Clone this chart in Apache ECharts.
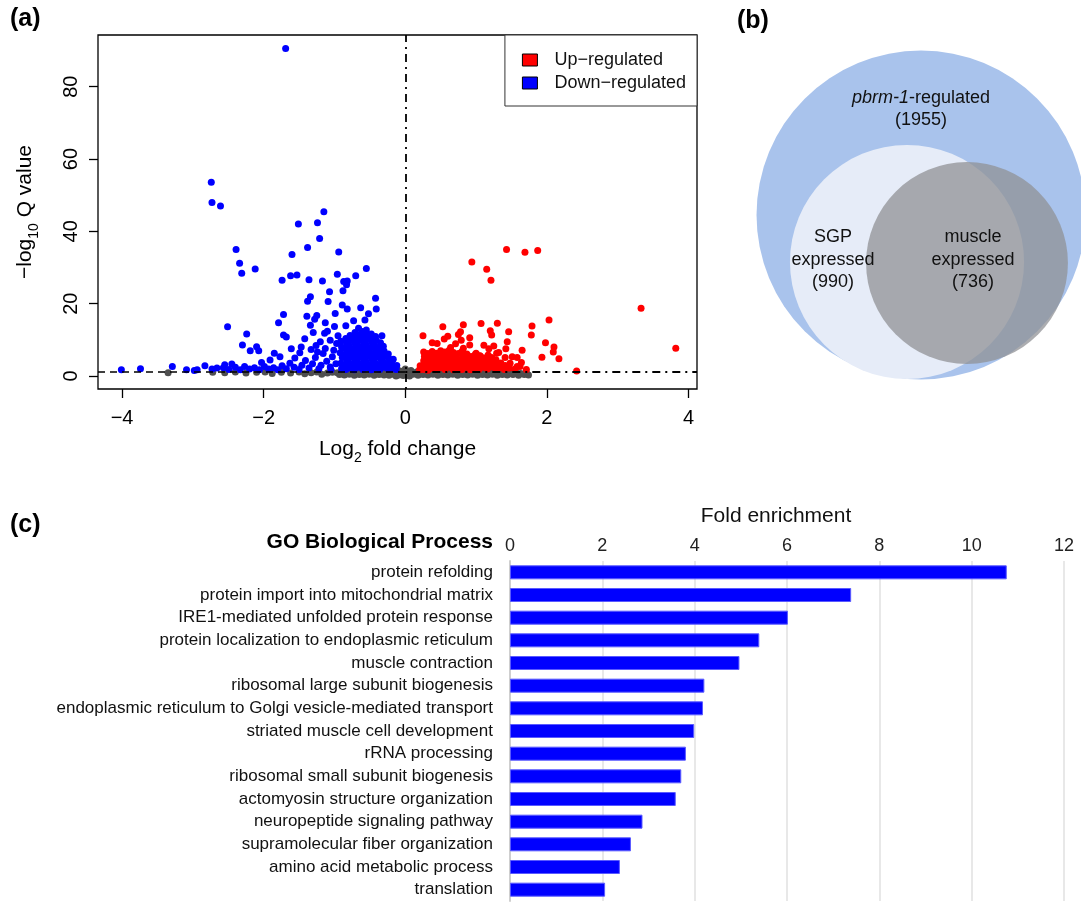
<!DOCTYPE html>
<html>
<head>
<meta charset="utf-8">
<title>pbrm-1 volcano / venn / GO</title>
<script src="https://cdn.jsdelivr.net/npm/echarts@6/dist/echarts.min.js"></script>
<style>
  html, body { margin: 0; padding: 0; background: #fff; }
  #chart { width: 1081px; height: 903px; }
</style>
</head>
<body>
<div id="chart"></div>
<script>
// ---- (a) volcano plot: [log2 fold change, -log10 Q] ----
const xTicks = [-4, -2, 0, 2, 4];
const yTicks = [0, 20, 40, 60, 80];
const qCutoff = 1.3;

const downRegulated = [
  [-1.69, 90.6], [-2.74, 53.6], [-2.73, 48.0], [-2.61, 47.0], [-1.15, 45.4], [-1.24, 42.4], [-1.51, 42.0],
  [-1.21, 38.0], [-1.38, 35.5], [-2.39, 35.0], [-0.94, 34.3], [-1.60, 33.6], [-2.34, 31.2], [-2.12, 29.6],
  [-0.55, 29.7], [-2.31, 28.4], [-0.96, 28.1], [-1.53, 27.9], [-1.62, 27.7], [-0.70, 27.7], [-1.36, 26.6],
  [-1.74, 26.5], [-1.17, 26.3], [-0.82, 26.3], [-0.87, 26.1], [-0.83, 25.2], [-0.88, 23.6], [-1.07, 23.3],
  [-1.34, 21.9], [-0.42, 21.5], [-1.38, 20.7], [-1.09, 20.6], [-0.89, 19.6], [-0.63, 18.9], [-0.82, 18.5],
  [-0.41, 18.5], [-0.99, 17.3], [-0.52, 17.2], [-1.72, 17.0], [-1.25, 16.7], [-1.39, 16.5], [-1.28, 15.7],
  [-0.57, 15.5], [-0.73, 15.3], [-1.79, 14.7], [-1.13, 14.7], [-1.34, 14.0], [-0.84, 13.9], [-1.00, 13.7],
  [-2.51, 13.6], [-0.66, 13.2], [-0.55, 12.7], [-1.14, 11.8], [-2.24, 11.6], [-0.48, 11.6], [-1.72, 11.3],
  [-0.95, 11.1], [-0.33, 11.1], [-1.68, 10.8], [-2.30, 8.6], [-1.26, 8.4], [-2.10, 8.1], [-1.47, 8.0],
  [-1.61, 7.5], [-2.07, 7.0], [-2.19, 7.0], [-1.85, 6.3], [-1.77, 5.3], [-1.91, 4.4], [-2.03, 3.7],
  [-2.45, 3.3], [-2.55, 3.1], [-2.83, 2.8], [-3.29, 2.6], [-2.57, 2.3], [-3.74, 2.0], [-2.73, 1.9],
  [-4.01, 1.7], [-3.09, 1.7], [-2.94, 1.7], [-2.98, 1.5],
  [-2.66, 2.2], [-2.49, 1.8], [-2.40, 2.4], [-2.33, 1.7], [-2.27, 2.6], [-2.20, 1.9], [-2.13, 2.3],
  [-2.06, 1.7], [-1.99, 2.6], [-1.93, 1.9], [-1.86, 2.3], [-1.80, 1.7], [-1.74, 2.8], [-1.68, 2.0],
  [-1.63, 3.5], [-1.57, 2.4], [-1.50, 1.8], [-1.46, 3.0], [-1.41, 4.3], [-1.36, 2.2], [-1.31, 3.4],
  [-1.27, 5.1], [-1.22, 2.0], [-1.19, 3.0], [-1.16, 6.2], [-1.11, 4.1], [-1.06, 2.5], [-1.03, 5.3],
  [-1.01, 7.1], [-0.98, 3.4], [-1.56, 5.0], [-1.49, 6.4], [-1.33, 7.3], [-1.20, 9.5], [-1.06, 9.9],
  [-1.42, 10.3], [-1.10, 12.4], [-1.30, 12.0], [-0.97, 9.0], [-1.13, 7.6], [-1.24, 6.6], [-1.05, 1.7],
  [-0.90, 2.0], [-0.91, 3.5], [-0.89, 5.1], [-0.92, 6.4], [-0.90, 8.0], [-0.91, 9.6],
  [-0.84, 1.8], [-0.85, 3.1], [-0.83, 4.5], [-0.84, 6.0], [-0.85, 7.5], [-0.83, 9.1], [-0.84, 10.4],
  [-0.78, 2.2], [-0.79, 3.6], [-0.77, 5.2], [-0.78, 6.8], [-0.79, 8.3], [-0.77, 9.8], [-0.78, 11.2],
  [-0.72, 1.7], [-0.73, 3.0], [-0.71, 4.4], [-0.72, 6.0], [-0.73, 7.4], [-0.71, 9.0], [-0.72, 10.5], [-0.71, 12.0],
  [-0.66, 2.4], [-0.67, 3.8], [-0.65, 5.3], [-0.66, 6.9], [-0.67, 8.4], [-0.65, 9.9], [-0.66, 11.4],
  [-0.60, 1.8], [-0.61, 3.2], [-0.59, 4.7], [-0.60, 6.2], [-0.61, 7.7], [-0.59, 9.3], [-0.60, 10.8], [-0.61, 12.3],
  [-0.54, 2.3], [-0.55, 3.9], [-0.53, 5.4], [-0.54, 7.0], [-0.55, 8.6], [-0.53, 10.1], [-0.54, 11.5],
  [-0.48, 1.7], [-0.49, 3.1], [-0.47, 4.6], [-0.48, 6.2], [-0.49, 7.8], [-0.47, 9.3], [-0.48, 10.6],
  [-0.42, 2.2], [-0.43, 3.7], [-0.41, 5.3], [-0.42, 6.8], [-0.43, 8.3], [-0.41, 9.8], [-0.42, 10.9],
  [-0.36, 1.8], [-0.37, 3.2], [-0.35, 4.8], [-0.36, 6.3], [-0.37, 7.8], [-0.35, 9.2],
  [-0.30, 2.4], [-0.31, 3.9], [-0.29, 5.4], [-0.30, 6.9], [-0.31, 8.2],
  [-0.24, 1.9], [-0.25, 3.3], [-0.23, 4.8], [-0.24, 6.1],
  [-0.18, 2.1], [-0.19, 3.5], [-0.17, 4.6], [-0.13, 1.8], [-0.12, 2.9]
];

const upRegulated = [
  [1.43, 35.0], [1.87, 34.7], [1.69, 34.2], [0.94, 31.5], [1.15, 29.5], [1.21, 26.5], [3.33, 18.7],
  [2.03, 15.5], [1.30, 14.6], [1.07, 14.5], [0.82, 14.2], [1.79, 13.8], [0.53, 13.6], [1.20, 12.5],
  [1.46, 12.2], [0.78, 12.2], [0.75, 11.5], [1.22, 11.3], [1.78, 11.3], [0.25, 11.1], [0.60, 11.0],
  [0.91, 10.6], [0.55, 10.2], [0.79, 9.9], [1.44, 9.5], [1.98, 9.2], [0.38, 9.2], [0.45, 9.0],
  [0.71, 8.9], [0.91, 8.6], [1.11, 8.5], [1.25, 8.3], [2.10, 8.0], [0.64, 7.9], [0.82, 7.7], [3.82, 7.7],
  [1.18, 7.5], [1.42, 7.5], [1.65, 7.1], [2.09, 6.6], [1.32, 6.5], [1.00, 6.3], [1.06, 5.5], [1.51, 5.3],
  [1.93, 5.2], [1.58, 5.1], [1.41, 5.1], [1.15, 5.1], [2.17, 4.8], [1.64, 3.7], [1.58, 2.6], [1.71, 1.8],
  [2.42, 1.4],
  [0.20, 1.7], [0.21, 2.8], [0.26, 1.8], [0.27, 3.0], [0.26, 4.2], [0.27, 5.4], [0.26, 6.6],
  [0.32, 1.6], [0.33, 2.7], [0.32, 3.9], [0.33, 5.0], [0.32, 6.2],
  [0.38, 2.1], [0.39, 3.3], [0.38, 4.5], [0.39, 5.6], [0.38, 6.8],
  [0.44, 1.7], [0.45, 2.9], [0.44, 4.0], [0.45, 5.2], [0.44, 6.3],
  [0.50, 2.3], [0.51, 3.5], [0.50, 4.7], [0.51, 5.8], [0.50, 7.0],
  [0.56, 1.8], [0.57, 3.0], [0.56, 4.2], [0.57, 5.4], [0.56, 6.6],
  [0.62, 2.4], [0.63, 3.6], [0.62, 4.8], [0.63, 6.0], [0.62, 7.1],
  [0.68, 1.7], [0.69, 2.9], [0.68, 4.1], [0.69, 5.3], [0.68, 6.5],
  [0.74, 2.2], [0.75, 3.4], [0.74, 4.6], [0.75, 6.2],
  [0.80, 1.8], [0.81, 3.0], [0.80, 4.3], [0.81, 5.5], [0.80, 6.8],
  [0.86, 2.4], [0.87, 3.6], [0.86, 4.9], [0.87, 6.1],
  [0.92, 1.7], [0.93, 2.9], [0.92, 4.1], [0.93, 5.4],
  [0.98, 2.2], [0.99, 3.4], [0.98, 4.7], [0.99, 6.0],
  [1.04, 1.8], [1.05, 3.0], [1.04, 4.3], [1.05, 5.6],
  [1.10, 2.4], [1.11, 3.7], [1.10, 5.0],
  [1.16, 1.9], [1.17, 3.1], [1.16, 4.4], [1.17, 5.8],
  [1.22, 2.5], [1.23, 3.8], [1.22, 5.1],
  [1.28, 1.8], [1.29, 3.0], [1.28, 4.5], [1.29, 6.3],
  [1.34, 2.3], [1.35, 3.6], [1.40, 1.8], [1.41, 2.9], [1.47, 2.2], [1.48, 3.5], [1.55, 1.9], [1.62, 2.6]
];

const notSignificant = [
  [-3.35, 0.9], [-2.72, 1.0], [-2.55, 0.9], [-2.40, 1.1], [-2.25, 0.8], [-2.10, 1.0], [-1.98, 1.1],
  [-1.88, 0.7], [-1.75, 1.0], [-1.62, 0.8], [-1.50, 1.1], [-1.42, 0.6], [-1.33, 0.9], [-1.25, 1.1],
  [-1.18, 0.5], [-1.10, 0.8], [-1.03, 1.0],
  [-0.96, 0.9], [-0.89, 1.1], [-0.82, 0.8], [-0.75, 1.0], [-0.68, 1.1], [-0.61, 0.9], [-0.54, 1.0],
  [-0.47, 0.8], [-0.40, 1.1], [-0.33, 0.9], [-0.26, 1.0], [-0.19, 0.8], [-0.12, 1.1], [-0.05, 0.9],
  [0.02, 1.0], [0.09, 0.8], [0.16, 1.1], [0.23, 0.9], [0.30, 1.0], [0.37, 0.8], [0.44, 1.1], [0.51, 0.9],
  [0.58, 1.0], [0.65, 0.8], [0.72, 1.1], [0.79, 0.9], [0.86, 1.0], [0.93, 0.8], [1.00, 1.1], [1.07, 0.9],
  [1.14, 1.0], [1.21, 0.8], [1.28, 1.1], [1.35, 0.9], [1.42, 1.0], [1.49, 0.8], [1.56, 1.0], [1.63, 0.7],
  [1.71, 0.9],
  [-0.93, 0.4], [-0.86, 0.3], [-0.79, 0.5], [-0.72, 0.2], [-0.65, 0.4], [-0.58, 0.3], [-0.51, 0.5],
  [-0.44, 0.2], [-0.37, 0.4], [-0.30, 0.3], [-0.23, 0.2], [-0.16, 0.4], [-0.09, 0.3], [-0.03, 0.1],
  [0.04, 0.3], [0.11, 0.5], [0.18, 0.2], [0.25, 0.4], [0.32, 0.3], [0.39, 0.5], [0.46, 0.2], [0.53, 0.4],
  [0.60, 0.3], [0.67, 0.5], [0.74, 0.2], [0.81, 0.4], [0.88, 0.3], [0.95, 0.5], [1.02, 0.2], [1.09, 0.4],
  [1.16, 0.3], [1.23, 0.5], [1.30, 0.2], [1.37, 0.4], [1.44, 0.3], [1.52, 0.4], [1.60, 0.2], [1.68, 0.4],
  [1.74, 0.3], [-0.10, 1.6], [0.00, 1.9], [0.08, 1.5], [-0.05, 1.3], [0.06, 0.0], [-0.13, 0.0]
];

// ---- (b) Venn: gene counts ----
const vennSets = ['pbrm-1-regulated', 'SGP expressed', 'muscle expressed'];
const vennCounts = [1955, 990, 736];

// ---- (c) GO enrichment ----
const goTerms = [
  'protein refolding',
  'protein import into mitochondrial matrix',
  'IRE1-mediated unfolded protein response',
  'protein localization to endoplasmic reticulum',
  'muscle contraction',
  'ribosomal large subunit biogenesis',
  'endoplasmic reticulum to Golgi vesicle-mediated transport',
  'striated muscle cell development',
  'rRNA processing',
  'ribosomal small subunit biogenesis',
  'actomyosin structure organization',
  'neuropeptide signaling pathway',
  'supramolecular fiber organization',
  'amino acid metabolic process',
  'translation'
];
const foldEnrichment = [10.76, 7.39, 6.02, 5.40, 4.97, 4.21, 4.18, 3.99, 3.81, 3.71, 3.59, 2.87, 2.62, 2.38, 2.06];

// ---- layout / style ----
const font = 'Liberation Sans, Arial, Helvetica, sans-serif';
const xRange = [-4.34, 4.12];
const yRange = [-3.6, 94.3];
const minus = v => (v < 0 ? '\u2212' + Math.abs(v) : String(v));
const subRich = {
  a: { fontSize: 21, fontFamily: font, color: '#000', padding: [0, 0, 5, 0], verticalAlign: 'bottom' },
  b: { fontSize: 14, fontFamily: font, color: '#000', verticalAlign: 'bottom' }
};

// venn: circle area proportional to count, centres relative to the big circle
const vennScale = 3.72;
const vennCentres = [[0, 0], [-14, -47], [46, -48]];
const vennFill = ['#a9c3ec', '#e6ecf8', 'rgba(144,146,150,0.75)'];
const vennLabelOffset = [[0, -106], [-74, -2], [6, -3]];

const chart = echarts.init(document.getElementById('chart'));

chart.setOption({
  animation: false,
  textStyle: { fontFamily: font },
  title: {
    text: 'GO Biological Process',
    right: 588,
    top: 532,
    padding: 0,
    textStyle: { fontSize: 21, fontWeight: 'bold', color: '#000', fontFamily: font }
  },
  legend: {
    data: ['Up\u2212regulated', 'Down\u2212regulated'],
    right: 384,
    top: 35,
    orient: 'vertical',
    icon: 'rect',
    itemWidth: 15,
    itemHeight: 12,
    itemGap: 5,
    padding: [16, 11, 14, 17],
    borderColor: '#333',
    borderWidth: 1,
    backgroundColor: '#fff',
    selectedMode: false,
    itemStyle: { borderColor: '#000', borderWidth: 1, opacity: 1 },
    textStyle: { fontSize: 18, color: '#111', padding: [0, 0, 0, 12], fontFamily: font }
  },
  graphic: [
    { type: 'text', left: 10, top: 7, style: { text: '(a)', font: 'bold 25px ' + font, fill: '#000' } },
    { type: 'text', left: 737, top: 9, style: { text: '(b)', font: 'bold 25px ' + font, fill: '#000' } },
    { type: 'text', left: 10, top: 513, style: { text: '(c)', font: 'bold 25px ' + font, fill: '#000' } }
  ],
  grid: [
    { left: 98, top: 35, width: 599, height: 354, show: true, borderColor: '#000', borderWidth: 1.3, backgroundColor: 'transparent' },
    { left: 510, top: 561, width: 554, height: 340 },
    { left: 720, top: 0, width: 361, height: 400 }
  ],
  xAxis: [
    {
      gridIndex: 0, type: 'value', min: xRange[0], max: xRange[1],
      axisLine: { show: false, onZero: false },
      axisTick: { show: true, length: 9, customValues: xTicks, lineStyle: { color: '#000', width: 1.3 } },
      axisLabel: { customValues: xTicks, formatter: minus, fontSize: 20, color: '#000', margin: 19 },
      splitLine: { show: false },
      name: '{a|Log}{b|2}{a| fold change}',
      nameLocation: 'middle', nameGap: 50,
      nameTextStyle: { rich: subRich }
    },
    {
      gridIndex: 1, type: 'value', position: 'top', min: 0, max: 12, interval: 2,
      axisLine: { show: false, onZero: false }, axisTick: { show: false },
      axisLabel: { fontSize: 18, color: '#222', margin: 6 },
      splitLine: { lineStyle: { color: '#e1e1e1', width: 1.5 } },
      name: 'Fold enrichment', nameLocation: 'middle', nameGap: 34,
      nameTextStyle: { fontSize: 21, color: '#111', padding: [0, 22, 0, 0] }
    },
    { gridIndex: 2, type: 'value', min: -201, max: 160, show: false }
  ],
  yAxis: [
    {
      gridIndex: 0, type: 'value', min: yRange[0], max: yRange[1],
      axisLine: { show: false, onZero: false },
      axisTick: { show: true, length: 9, customValues: yTicks, lineStyle: { color: '#000', width: 1.3 } },
      axisLabel: { customValues: yTicks, fontSize: 20, color: '#000', rotate: 90, margin: 17 },
      splitLine: { show: false },
      name: '{a|\u2212log}{b|10}{a| Q value}',
      nameLocation: 'middle', nameGap: 57, nameRotate: 90,
      nameTextStyle: { rich: subRich }
    },
    {
      gridIndex: 1, type: 'category', inverse: true, data: goTerms,
      axisLine: { show: true, onZero: false, lineStyle: { color: '#cfcfcf', width: 2 } },
      axisTick: { show: false },
      axisLabel: { fontSize: 17, color: '#111', margin: 17 }
    },
    { gridIndex: 2, type: 'value', min: -185, max: 215, show: false }
  ],
  series: [
    {
      type: 'scatter', name: 'not significant', xAxisIndex: 0, yAxisIndex: 0,
      data: notSignificant, symbolSize: 7, z: 2, silent: true,
      itemStyle: { color: '#4f4f4f', opacity: 1 }
    },
    {
      type: 'scatter', name: 'Down\u2212regulated', xAxisIndex: 0, yAxisIndex: 0,
      data: downRegulated, symbolSize: 7, z: 3, silent: true,
      itemStyle: { color: '#0000ff', opacity: 1 },
      markLine: {
        silent: true, symbol: ['none', 'none'], label: { show: false },
        lineStyle: { color: '#000', type: [7, 5], width: 1.6 },
        data: [[{ coord: [xRange[0], qCutoff] }, { coord: [0, qCutoff] }]]
      }
    },
    {
      type: 'scatter', name: 'Up\u2212regulated', xAxisIndex: 0, yAxisIndex: 0,
      data: upRegulated, symbolSize: 7, z: 3, silent: true,
      itemStyle: { color: '#ff0000', opacity: 1 },
      markLine: {
        silent: true, symbol: ['none', 'none'], label: { show: false },
        lineStyle: { color: '#000', type: [2, 5, 8, 5], width: 1.8 },
        data: [
          [{ coord: [0, qCutoff] }, { coord: [xRange[1], qCutoff] }],
          { xAxis: 0 }
        ]
      }
    },
    {
      type: 'bar', xAxisIndex: 1, yAxisIndex: 1, data: foldEnrichment,
      barWidth: 14, silent: true,
      itemStyle: { color: '#0000ff', borderColor: '#5a5aff', borderWidth: 1 }
    },
    {
      type: 'scatter', xAxisIndex: 2, yAxisIndex: 2, silent: true, clip: false,
      data: vennCounts.map((c, i) => ({
        name: vennSets[i],
        value: [vennCentres[i][0], vennCentres[i][1], c],
        symbolSize: 2 * vennScale * Math.sqrt(c),
        itemStyle: { color: vennFill[i], opacity: 1 },
        label: { offset: vennLabelOffset[i] }
      })),
      label: {
        show: true, position: 'inside', fontSize: 18, lineHeight: 22.5, color: '#111',
        formatter: p => p.dataIndex === 0
          ? '{i|pbrm-1}-regulated\n(' + p.value[2] + ')'
          : p.name.replace(' ', '\n') + '\n(' + p.value[2] + ')',
        rich: { i: { fontStyle: 'italic', fontSize: 18, lineHeight: 22.5, color: '#111', fontFamily: font } }
      }
    }
  ]
});
</script>
</body>
</html>
